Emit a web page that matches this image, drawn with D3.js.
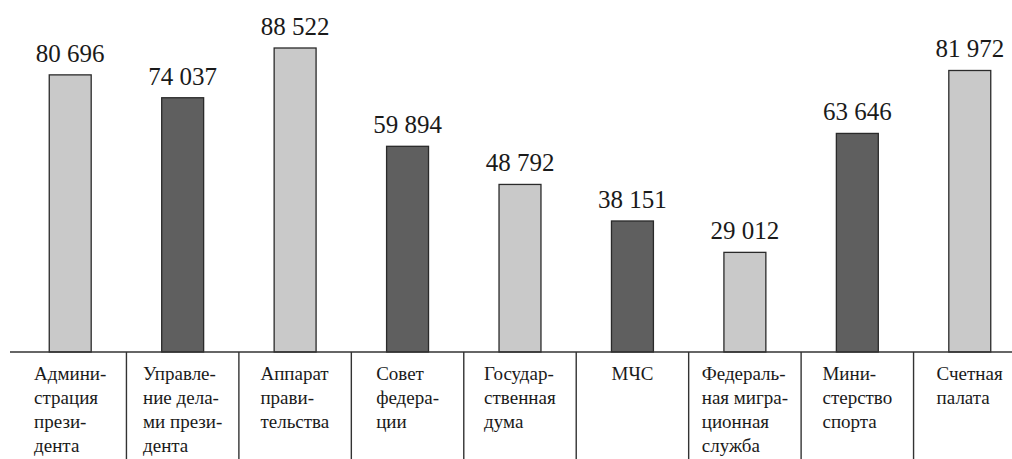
<!DOCTYPE html>
<html>
<head>
<meta charset="utf-8">
<script src="https://cdn.jsdelivr.net/npm/d3@7"></script>
</head>
<body style="margin:0;background:#fff">
<svg id="fig" width="1012" height="459" style="display:block"></svg>
<script>
const categories = [
  ["Админи-", "страция", "прези-", "дента"],
  ["Управле-", "ние дела-", "ми прези-", "дента"],
  ["Аппарат", "прави-", "тельства"],
  ["Совет", "федера-", "ции"],
  ["Государ-", "ственная", "дума"],
  ["МЧС"],
  ["Федераль-", "ная мигра-", "ционная", "служба"],
  ["Мини-", "стерство", "спорта"],
  ["Счетная", "палата"]
];
const values = [80696, 74037, 88522, 59894, 48792, 38151, 29012, 63646, 81972];
const valueLabels = ["80 696", "74 037", "88 522", "59 894", "48 792", "38 151", "29 012", "63 646", "81 972"];
const shades = ["light", "dark", "light", "dark", "light", "dark", "light", "dark", "light"];

const svg = d3.select("#fig");
const W = 1012, H = 459;
const baseY = 352;
const FONT = '"Liberation Serif", Tinos, FreeSerif';

const x = d3.scaleBand()
  .domain(d3.range(values.length))
  .range([14, 1026])
  .paddingInner(0.627)
  .paddingOuter(0.3135);
const cell = d3.scaleBand().domain(d3.range(values.length)).range([14, 1026]);

const y = d3.scaleLinear().domain([0, 88522]).range([baseY, 48]);
const color = d3.scaleOrdinal().domain(["light", "dark"]).range(["#c9c9c9", "#5f5f5f"]);

svg.append("g").selectAll("rect")
  .data(values)
  .join("rect")
  .attr("x", (d, i) => x(i))
  .attr("y", d => y(d))
  .attr("width", x.bandwidth())
  .attr("height", d => baseY - y(d))
  .attr("fill", (d, i) => color(shades[i]))
  .attr("stroke", "#2a2a2a")
  .attr("stroke-width", 1.3);

svg.append("g").selectAll("text")
  .data(values)
  .join("text")
  .attr("x", (d, i) => x(i) + x.bandwidth() / 2)
  .attr("y", d => y(d) - 13)
  .attr("text-anchor", "middle")
  .attr("font-family", FONT)
  .style("font-family", FONT, "important")
  .style("font-size", "25px")
  .attr("fill", "#1a1a1a")
  .text((d, i) => valueLabels[i]);

svg.append("line")
  .attr("x1", 10).attr("x2", W)
  .attr("y1", baseY).attr("y2", baseY)
  .attr("stroke", "#333").attr("stroke-width", 1.6);

svg.append("g").selectAll("line")
  .data(d3.range(1, values.length))
  .join("line")
  .attr("x1", i => cell(i)).attr("x2", i => cell(i))
  .attr("y1", baseY).attr("y2", H)
  .attr("stroke", "#333").attr("stroke-width", 1.4);

const labG = svg.append("g");
categories.forEach((lines, i) => {
  const t = labG.append("text")
    .attr("font-family", FONT)
    .style("font-family", FONT, "important")
    .style("font-size", "19px")
    .attr("fill", "#1a1a1a");
  lines.forEach((ln, j) => {
    t.append("tspan").attr("x", 0).attr("y", 380 + j * 24)
      .style("font-family", FONT, "important")
      .text(ln);
  });
  const w = t.node().getBBox().width;
  const cx = x(i) + x.bandwidth() / 2;
  t.attr("transform", `translate(${cx - w / 2},0)`);
});
</script>
</body>
</html>
